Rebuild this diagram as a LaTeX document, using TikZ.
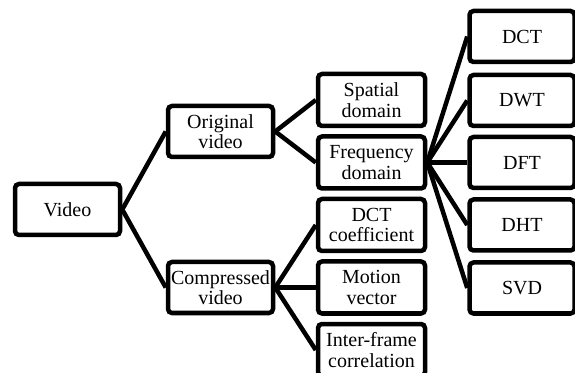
\documentclass[tikz,border=0pt]{standalone}
\usepackage{fontspec}
\setmainfont{Liberation Serif}
\begin{document}
\begin{tikzpicture}[x=1pt,y=1pt,
  box/.style={draw=black, line width=4.5pt, rounded corners=4pt, fill=white,
    minimum width=105pt, minimum height=51pt, inner sep=0pt, align=center,
    font=\fontsize{20}{20.5}\selectfont},
  wbox/.style={box, minimum width=107pt, minimum height=52pt},
  rbox/.style={box, minimum width=105pt, minimum height=51pt},
  link/.style={line width=4.5pt}]
\useasboundingbox (0,0) rectangle (575,372);
% nodes
\node[box] (V) at (67.5,162.5) {Video};
\node[box] (O) at (220.5,240.5) {Original\\video};
\node[box] (C) at (220.5,84.5) {Compressed\\video};
\node[wbox] (S) at (371.5,272) {Spatial\\domain};
\node[wbox] (F) at (371.5,209.5) {Frequency\\domain};
\node[wbox] (DC) at (371.5,147) {DCT\\coefficient};
\node[wbox] (M) at (371.5,84.5) {Motion\\vector};
\node[wbox] (I) at (371.5,22) {Inter-frame\\correlation};
\node[rbox] (R1) at (522,335.5) {DCT};
\node[rbox] (R2) at (522,271.5) {DWT};
\node[rbox] (R3) at (522,209.5) {DFT};
\node[rbox] (R4) at (522,147) {DHT};
\node[rbox] (R5) at (522,84) {SVD};
% connectors
\draw[link] (V.east) -- (O.west);
\draw[link] (V.east) -- (C.west);
\draw[link] (O.east) -- (S.west);
\draw[link] (O.east) -- (F.west);
\draw[link] (C.east) -- (DC.west);
\draw[link] (C.east) -- (M.west);
\draw[link] (C.east) -- (I.west);
\draw[link] (F.east) -- (R1.west);
\draw[link] (F.east) -- (R2.west);
\draw[link] (F.east) -- (R3.west);
\draw[link] (F.east) -- (R4.west);
\draw[link] (F.east) -- (R5.west);
\end{tikzpicture}
\end{document}
